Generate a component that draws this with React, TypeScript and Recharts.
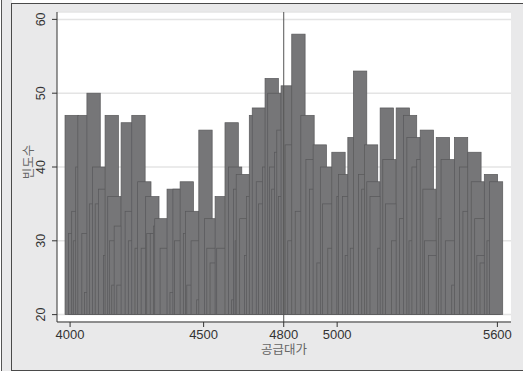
import { ComposedChart, Bar, XAxis, YAxis, CartesianGrid, ReferenceLine, Label } from "recharts";

// bar centres (공급대가) and their counts (빈도수), drawn in this order
const prices = [
  4006, 4019, 4031, 4037, 4046, 4054, 4069, 4079, 4088, 4097, 4109, 4119, 4131, 4150, 4156, 4166, 4172, 4181, 4190, 4200,
  4216, 4231, 4243, 4256, 4268, 4278, 4291, 4308, 4312, 4325, 4337, 4342, 4362, 4388, 4399, 4410, 4416, 4437, 4449, 4457,
  4462, 4478, 4499, 4507, 4528, 4537, 4549, 4568, 4574, 4605, 4618, 4630, 4637, 4643, 4647, 4660, 4678, 4685, 4696, 4707,
  4722, 4730, 4745, 4755, 4765, 4772, 4780, 4790, 4799, 4805, 4815, 4830, 4840, 4855, 4868, 4889, 4908, 4921, 4935, 4949,
  4962, 4970, 4990, 5005, 5024, 5030, 5045, 5055, 5065, 5074, 5086, 5105, 5117, 5127, 5136, 5148, 5177, 5186, 5196, 5206,
  5228, 5246, 5258, 5273, 5286, 5294, 5305, 5323, 5336, 5346, 5352, 5367, 5396, 5405, 5414, 5430, 5454, 5464, 5483, 5496,
  5514, 5527, 5540, 5548, 5560, 5576, 5586, 5595,
];
const counts = [
  47, 31, 34, 30, 40, 47, 31, 23, 50, 35, 40, 35, 37, 28, 47, 36, 30, 24, 32, 24,
  46, 34, 30, 47, 29, 38, 29, 36, 31, 31, 32, 33, 29, 37, 23, 37, 30, 38, 31, 34,
  24, 30, 22, 45, 33, 29, 27, 36, 29, 46, 40, 22, 37, 30, 39, 33, 28, 36, 47, 48,
  38, 35, 40, 52, 50, 40, 37, 42, 45, 36, 51, 43, 30, 58, 34, 47, 41, 37, 43, 27,
  40, 35, 29, 42, 36, 39, 36, 28, 44, 29, 53, 39, 37, 43, 38, 36, 29, 48, 41, 35,
  30, 48, 33, 47, 44, 30, 40, 41, 45, 37, 30, 28, 44, 33, 41, 30, 24, 44, 40, 34,
  42, 38, 33, 28, 27, 39, 30, 38,
];
const xTicks = [4000, 4500, 4800, 5000, 5600];
const yTicks = [20, 30, 40, 50, 60];
const markPrice = 4800;
const baseCount = 20;
const binWidth = 50;

const W = 523;
const H = 371;
const margin = { top: 12, right: 12, bottom: 9, left: 11 };
const yAxisWidth = 46;
const xAxisHeight = 40;
const xDomain: [number, number] = [3951, 5651];
const yDomain: [number, number] = [19, 61];
const plotWidth = W - margin.left - margin.right - yAxisWidth;
const barPx = (binWidth * plotWidth) / (xDomain[1] - xDomain[0]);

const font = "'Liberation Sans', Arial, 'Noto Sans CJK KR', sans-serif";

const data = prices.map((p, i) => ({ price: p, count: counts[i] }));

function WideBar(props: any) {
  const { x, y, width, height } = props;
  if (x == null || y == null) return null;
  const cx = x + width / 2;
  const top = Math.min(y, y + height);
  const h = Math.abs(height);
  return (
    <rect x={cx - barPx / 2} y={top} width={barPx} height={h} fill="#767678" stroke="#58585a" strokeWidth={0.7} />
  );
}

function YTick({ x, y, payload }: any) {
  return (
    <text x={x} y={y} transform={`rotate(-90 ${x} ${y})`} textAnchor="middle" fontSize={12.5} fill="#333" fontFamily={font}>
      {payload.value}
    </text>
  );
}

export default function App() {
  return (
    <div style={{ position: "absolute", left: 0, top: 0, width: W, height: H, background: "#fff", overflow: "hidden" }}>
      <div style={{ position: "absolute", left: 0, top: 0, width: 11, height: H, background: "#e9e9ea", borderLeft: "1px solid #555", marginLeft: 1, boxSizing: "border-box" }} />
      <div style={{ position: "absolute", left: 11, top: 3, width: W - 11, height: H - 3, background: "#e9e9ea", borderLeft: "1px solid #4a4a4a", borderTop: "1px solid #4a4a4a", borderBottom: "1px solid #4a4a4a", boxSizing: "border-box" }} />
      <div style={{ position: "absolute", left: 0, top: 0 }}>
        <ComposedChart width={W} height={H} data={data} margin={margin}>
          <CartesianGrid vertical={false} fill="#fff" stroke="#e4e4e4" strokeWidth={1.5} />
          <XAxis
            type="number"
            dataKey="price"
            domain={xDomain}
            ticks={xTicks}
            height={xAxisHeight}
            tickSize={5}
            tickMargin={3}
            stroke="#333"
            tick={{ fontSize: 13, fill: "#333", fontFamily: font }}
          >
            <Label value="공급대가" position="insideBottom" offset={8} fill="#666" fontSize={12.5} fontFamily={font} />
          </XAxis>
          <YAxis
            type="number"
            domain={yDomain}
            ticks={yTicks}
            width={yAxisWidth}
            tickSize={5}
            tickMargin={7}
            stroke="#333"
            tick={<YTick />}
          >
            <Label
              content={({ viewBox }: any) => {
                const cx = 32.5;
                const cy = viewBox.y + viewBox.height / 2 - 5;
                return (
                  <text x={cx} y={cy} transform={`rotate(-90 ${cx} ${cy})`} textAnchor="middle" fontSize={12.5} fill="#666" fontFamily={font}>
                    빈도수
                  </text>
                );
              }}
            />
          </YAxis>
          <Bar dataKey={(d: any) => [baseCount, d.count]} shape={<WideBar />} isAnimationActive={false} />
          <ReferenceLine x={markPrice} stroke="#555" strokeWidth={1} />
        </ComposedChart>
      </div>
    </div>
  );
}
